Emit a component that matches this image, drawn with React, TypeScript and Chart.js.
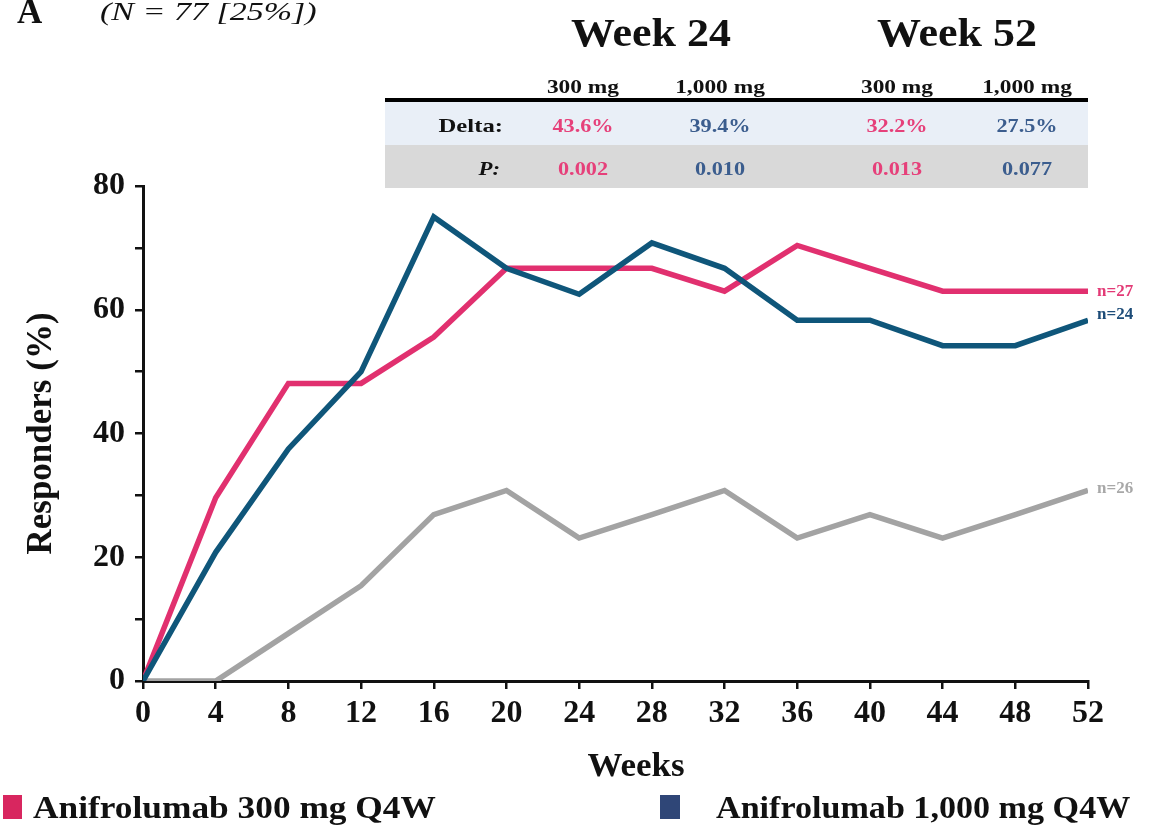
import React, { useEffect, useRef } from "react";
import { Chart, registerables } from "chart.js";

Chart.register(...registerables);

const weeks = [0, 4, 8, 12, 16, 20, 24, 28, 32, 36, 40, 44, 48, 52];
const anif300 = [0, 29.6, 48.1, 48.1, 55.6, 66.7, 66.7, 66.7, 63.0, 70.4, 66.7, 63.0, 63.0, 63.0];
const anif1000 = [0, 20.8, 37.5, 50.0, 75.0, 66.7, 62.5, 70.8, 66.7, 58.3, 58.3, 54.2, 54.2, 58.3];
const placebo = [0, 0, 7.7, 15.4, 26.9, 30.8, 23.1, 26.9, 30.8, 23.1, 26.9, 23.1, 26.9, 30.8];
const seriesNames = ["Anifrolumab 300 mg Q4W", "Anifrolumab 1,000 mg Q4W", "Placebo"];
const endLabels = ["n=27", "n=24", "n=26"];
const weekHeaders = ["Week 24", "Week 52"];
const doseHeaders = ["300 mg", "1,000 mg", "300 mg", "1,000 mg"];
const deltaValues = ["43.6%", "39.4%", "32.2%", "27.5%"];
const pValues = ["0.002", "0.010", "0.013", "0.077"];
const xTitle = "Weeks";
const yTitle = "Responders (%)";

const PINK = "#e1306f";
const BLUE = "#0f567a";
const GRAY = "#a3a3a3";
const SERIF = "'Liberation Serif', 'Times New Roman', serif";

type TProps = {
  x: number;
  y: number;
  size: number;
  text: string;
  anchor?: "left" | "center" | "right";
  color?: string;
  bold?: boolean;
  italic?: boolean;
  sx?: number;
};

function T({ x, y, size, text, anchor = "left", color = "#111", bold = true, italic = false, sx = 1 }: TProps) {
  const tx = anchor === "center" ? "-50%" : anchor === "right" ? "-100%" : "0";
  const origin = anchor === "center" ? "center" : anchor === "right" ? "right" : "left";
  return (
    <div
      style={{
        position: "absolute",
        left: x,
        top: y - 0.8375 * size,
        fontFamily: SERIF,
        fontSize: size,
        lineHeight: 1,
        fontWeight: bold ? 700 : 400,
        fontStyle: italic ? "italic" : "normal",
        color,
        whiteSpace: "nowrap",
        transform: `translateX(${tx}) scaleX(${sx})`,
        transformOrigin: origin,
      }}
    >
      {text}
    </div>
  );
}

const endLabelPlugin = {
  id: "endLabels",
  afterDatasetsDraw(chart: any) {
    const ctx = chart.ctx;
    const colors = ["#e33a76", "#1d4c78", "#a8a8a8"];
    const dys = [0, -6, -2];
    ctx.save();
    ctx.font = `bold 17px ${SERIF}`;
    ctx.textBaseline = "middle";
    ctx.textAlign = "left";
    chart.data.datasets.forEach((ds: any, i: number) => {
      const meta = chart.getDatasetMeta(i);
      const pt = meta.data[meta.data.length - 1];
      ctx.fillStyle = colors[i];
      ctx.fillText(endLabels[i], pt.x + 9, pt.y + dys[i]);
    });
    ctx.restore();
  },
};

export default function App() {
  const ref = useRef<HTMLCanvasElement | null>(null);

  useEffect(() => {
    if (!ref.current) return;
    const tickFont = { family: SERIF, size: 32, weight: "bold" as const };
    const mk = (vals: number[]) => weeks.map((w, i) => ({ x: w, y: vals[i] }));
    const chart = new Chart(ref.current, {
      type: "line",
      data: {
        datasets: [
          { label: seriesNames[0], data: mk(anif300), borderColor: PINK, borderWidth: 5.5, pointRadius: 0, tension: 0, order: 2 },
          { label: seriesNames[1], data: mk(anif1000), borderColor: BLUE, borderWidth: 5.5, pointRadius: 0, tension: 0, order: 1 },
          { label: seriesNames[2], data: mk(placebo), borderColor: GRAY, borderWidth: 5.5, pointRadius: 0, tension: 0, order: 3 },
        ],
      },
      options: {
        animation: false,
        responsive: false,
        layout: { padding: { top: 186, right: 81, bottom: 40, left: 0 } },
        plugins: { legend: { display: false }, tooltip: { enabled: false } },
        scales: {
          x: {
            type: "linear",
            min: 0,
            max: 52,
            afterFit: (s: any) => {
              s.height = 109;
            },
            ticks: { stepSize: 4, font: tickFont, color: "#111", padding: 6 },
            grid: { drawOnChartArea: false, drawTicks: true, tickLength: 8, color: "#111", lineWidth: 2.5 },
            border: { color: "#111", width: 3 },
            title: { display: false, text: xTitle },
          },
          y: {
            min: 0,
            max: 80,
            afterFit: (s: any) => {
              s.width = 143;
            },
            ticks: {
              stepSize: 10,
              font: tickFont,
              color: "#111",
              padding: 10,
              callback: (v: any) => (Number(v) % 20 === 0 ? String(v) : ""),
            },
            grid: { drawOnChartArea: false, drawTicks: true, tickLength: 8, color: "#111", lineWidth: 2.5 },
            border: { color: "#111", width: 3 },
            title: { display: true, text: yTitle, font: { ...tickFont, size: 35 }, color: "#111", padding: { top: 21, bottom: 0 } },
          },
        },
      },
      plugins: [endLabelPlugin],
    });
    return () => chart.destroy();
  }, []);

  const colX = [583, 720, 897, 1027];
  const valColors = ["#e6407a", "#3b5d8e", "#e6407a", "#3b5d8e"];

  return (
    <div style={{ position: "absolute", left: 0, top: 0, width: 1169, height: 830, background: "#fff", overflow: "hidden" }}>
      <canvas ref={ref} width={1169} height={830} style={{ position: "absolute", left: 0, top: 0 }} />
      <T x={17} y={23} size={35} text="A" />
      <T x={100} y={20} size={25} text="(N = 77 [25%])" bold={false} italic sx={1.36} />
      <T x={651} y={46} size={40} text={weekHeaders[0]} anchor="center" sx={1.1} />
      <T x={957} y={46} size={40} text={weekHeaders[1]} anchor="center" sx={1.1} />
      {doseHeaders.map((d, i) => (
        <T key={"h" + i} x={colX[i]} y={93} size={18} text={d} anchor="center" sx={1.3} />
      ))}
      <div style={{ position: "absolute", left: 385, top: 102, width: 703, height: 43, background: "#e9eff7" }} />
      <div style={{ position: "absolute", left: 385, top: 145, width: 703, height: 43, background: "#d9d9d9" }} />
      <div style={{ position: "absolute", left: 385, top: 98, width: 703, height: 4, background: "#000" }} />
      <T x={503} y={132} size={19} text="Delta:" anchor="right" sx={1.3} />
      <T x={500} y={175} size={19} text="P:" anchor="right" italic sx={1.2} />
      {deltaValues.map((d, i) => (
        <T key={"d" + i} x={colX[i]} y={132} size={19} text={d} anchor="center" color={valColors[i]} sx={1.17} />
      ))}
      {pValues.map((d, i) => (
        <T key={"p" + i} x={colX[i]} y={175} size={19} text={d} anchor="center" color={valColors[i]} sx={1.17} />
      ))}
      <T x={636} y={777} size={33} text={xTitle} anchor="center" sx={1.06} />
      <div style={{ position: "absolute", left: 3, top: 795, width: 19, height: 24, background: "#d8265f" }} />
      <T x={33} y={818} size={31} text={seriesNames[0]} sx={1.14} />
      <div style={{ position: "absolute", left: 660, top: 795, width: 20, height: 24, background: "#2f4677" }} />
      <T x={716} y={818} size={31} text={seriesNames[1]} sx={1.1} />
    </div>
  );
}
